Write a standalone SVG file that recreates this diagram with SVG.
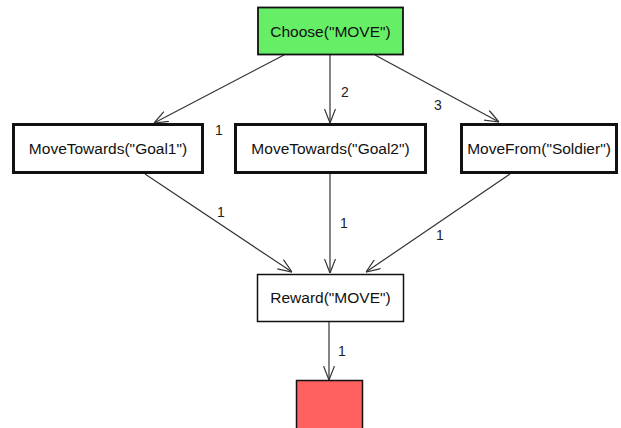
<svg xmlns="http://www.w3.org/2000/svg" width="621" height="428" viewBox="0 0 621 428">
  <style>
    .box { stroke: #111; }
    .lbl { font-family: "Liberation Sans", Arial, sans-serif; font-size: 15.5px; fill: #111; text-anchor: middle; }
    .num { font-family: "Liberation Sans", Arial, sans-serif; font-size: 14px; fill: #222; text-anchor: middle; }
    .edge { stroke: #333; stroke-width: 1.2; fill: none; marker-end: url(#arrow); }
  </style>
  <defs>
    <marker id="arrow" viewBox="0 0 14 12" refX="14" refY="6" markerWidth="14" markerHeight="12" markerUnits="userSpaceOnUse" orient="auto">
      <path d="M0,0.5 L14,6 L0,11.5" fill="none" stroke="#333" stroke-width="1.2"/>
    </marker>
  </defs>
  <rect width="621" height="428" fill="#ffffff"/>

  <g id="connectors">
    <line class="edge" x1="284" y1="55" x2="154" y2="123"/>
    <line class="edge" x1="330" y1="55" x2="330" y2="123"/>
    <line class="edge" x1="375" y1="55" x2="499" y2="122"/>
    <line class="edge" x1="145" y1="174" x2="292" y2="272"/>
    <line class="edge" x1="330" y1="174" x2="330" y2="273"/>
    <line class="edge" x1="510" y1="174" x2="366" y2="272"/>
    <line class="edge" x1="329" y1="322" x2="329" y2="380"/>
    <text class="num" x="219" y="135">1</text>
    <text class="num" x="345" y="97">2</text>
    <text class="num" x="438" y="110">3</text>
    <text class="num" x="221" y="217">1</text>
    <text class="num" x="344" y="228">1</text>
    <text class="num" x="440" y="240">1</text>
    <text class="num" x="342" y="356">1</text>
  </g>

  <g id="choose">
    <rect class="box" x="258" y="7.5" width="145" height="47" fill="#66ee66" stroke-width="1.8"/>
    <text class="lbl" x="330.5" y="37">Choose("MOVE")</text>
  </g>
  <g id="goal1">
    <rect class="box" x="13.5" y="124.5" width="189" height="48" fill="#ffffff" stroke-width="3"/>
    <text class="lbl" x="108" y="154">MoveTowards("Goal1")</text>
  </g>
  <g id="goal2">
    <rect class="box" x="235.5" y="124.5" width="190" height="48" fill="#ffffff" stroke-width="3"/>
    <text class="lbl" x="330.5" y="154">MoveTowards("Goal2")</text>
  </g>
  <g id="soldier">
    <rect class="box" x="461.5" y="124.5" width="155" height="48" fill="#ffffff" stroke-width="3"/>
    <text class="lbl" x="539" y="154">MoveFrom("Soldier")</text>
  </g>
  <g id="reward">
    <rect class="box" x="257.5" y="274.5" width="146" height="47" fill="#ffffff" stroke-width="1.5"/>
    <text class="lbl" x="330.5" y="303">Reward("MOVE")</text>
  </g>
  <g id="end">
    <rect class="box" x="296.5" y="380.5" width="66" height="52" fill="#ff6060" stroke-width="1.5"/>
  </g>
</svg>
